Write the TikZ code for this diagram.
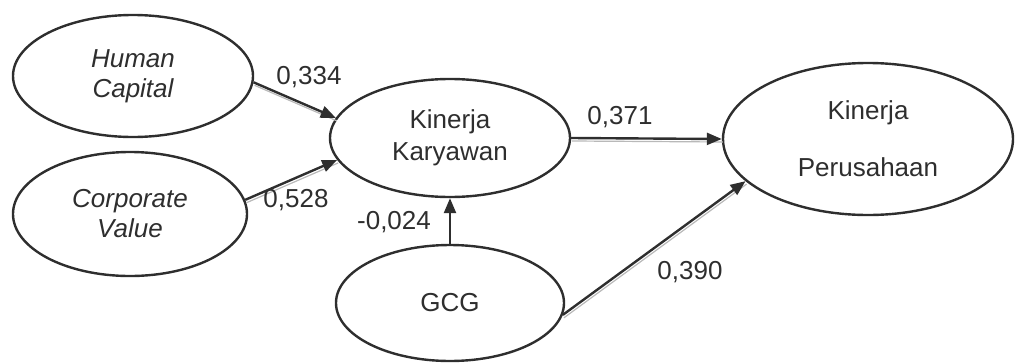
\documentclass[tikz,border=0pt]{standalone}
\usepackage{fontspec}
\setmainfont{Liberation Sans}
\usetikzlibrary{shapes.geometric,arrows.meta}
\definecolor{ink}{HTML}{2E2E2E}
\begin{document}
\begin{tikzpicture}[x=1pt,y=-1pt,
  construct/.style={ellipse,draw=ink,line width=2.4pt,inner sep=0pt,text=ink,align=center,
    font=\fontsize{26}{31}\selectfont},
  path/.style={draw=ink,line width=2.4pt,-{Triangle[length=15pt,width=12pt]},
    preaction={draw=gray!55,line width=1.2pt,-,transform canvas={shift={(1pt,-3pt)}}}},
  plainpath/.style={draw=ink,line width=2.4pt,-{Triangle[length=15pt,width=12pt]}},
  coef/.style={text=ink,font=\fontsize{26}{31}\selectfont,inner sep=0pt}]
\useasboundingbox (0,0) rectangle (1017,362);
\node[construct,minimum width=240pt,minimum height=122pt] (hc) at (133,76) {\itshape Human\\[-1pt]\itshape Capital};
\node[construct,minimum width=234pt,minimum height=124pt] (cv) at (130,214) {\itshape Corporate\\[-1pt]\itshape Value};
\node[construct,minimum width=240pt,minimum height=118pt] (kk) at (450,138) {Kinerja\\[1pt]Karyawan};
\node[construct,minimum width=290pt,minimum height=152pt] (kp) at (868,139) {Kinerja\\[26pt]Perusahaan};
\node[construct,minimum width=228pt,minimum height=116pt] (gcg) at (450,303) {GCG};
\draw[path] (hc.-3) -- (kk.170);
\draw[path] (cv.7) -- (kk.-169);
\draw[plainpath] (gcg.north) -- (kk.south);
\draw[path] (kk.east) -- (kp.west);
\draw[path] (gcg.-6) -- (kp.-161);
\node[coef] (c1) at (309,77) {0,334};
\node[coef] (c2) at (296,200) {0,528};
\node[coef] (c3) at (394,222) {-0,024};
\node[coef] (c4) at (620,117) {0,371};
\node[coef] (c5) at (690,272) {0,390};
\end{tikzpicture}
\end{document}
